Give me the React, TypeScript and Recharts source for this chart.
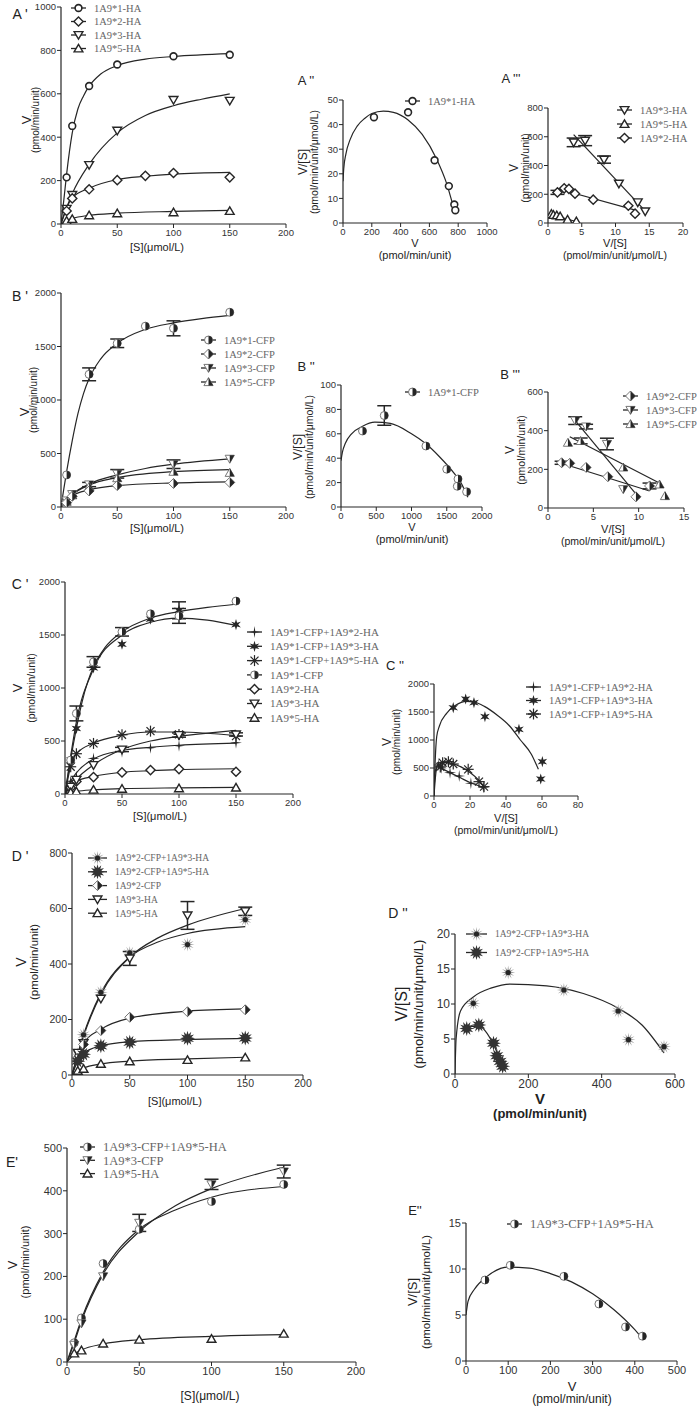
import React from 'react'
import { ComposedChart, Scatter, Line, XAxis, YAxis, ErrorBar } from 'recharts'

// ---- A' : Michaelis-Menten, HA constructs ----
const S_A = [5, 10, 25, 50, 100, 150]
const S_A2 = [5, 10, 25, 50, 75, 100, 150]
const A_HA1 = [215, 452, 636, 735, 773, 780]
const A_HA3 = [70, 134, 272, 430, 572, 568]
const A_HA2 = [60, 118, 160, 202, 222, 235, 215]
const A_HA5 = [15, 23, 40, 49, 54, 60]
const FIT_HA1_X = [0, 2.5, 5, 10, 15, 20, 25, 35, 50, 75, 100, 150]
const FIT_HA1_Y = [0, 110, 230, 420, 530, 590, 635, 690, 730, 760, 772, 785]
const FIT_HA3_X = [0, 5, 10, 25, 50, 75, 100, 125, 150]
const FIT_HA3_Y = [0, 75, 140, 275, 420, 500, 545, 575, 600]
const FIT_HA2_X = [0, 5, 10, 25, 50, 75, 100, 150]
const FIT_HA2_Y = [0, 75, 120, 165, 205, 220, 230, 238]
const FIT_HA5_X = [0, 5, 10, 25, 50, 100, 150]
const FIT_HA5_Y = [0, 15, 25, 40, 50, 58, 63]

// ---- A'' : Eadie-Hofstee 1A9*1-HA ----
const A2_V = [215, 452, 636, 735, 773, 780]
const A2_VS = [43, 45, 25.5, 15, 7.5, 5.2]
const A2_FIT_X = [0, 5, 20, 50, 100, 150, 200, 280, 350, 450, 550, 650, 720, 760, 780]
const A2_FIT_Y = [17, 22, 28, 34, 39.5, 42.5, 44.5, 45.5, 45, 42, 36, 26, 16, 8, 4]

// ---- A''' ----
const A3_HA3_X = [3.8, 5.5, 8.3, 10.5, 13.3, 14.4]
const A3_HA3_Y = [561, 573, 441, 274, 144, 81]
const A3_HA3_E = [30, 35, 25, 0, 0, 0]
const A3_HA2_X = [1.4, 2.4, 3.1, 4.0, 6.7, 11.9, 12.9]
const A3_HA2_Y = [213, 241, 237, 204, 162, 120, 65]
const A3_HA2_E = [14, 0, 0, 0, 0, 0, 0]
const A3_HA5_X = [0.5, 0.8, 1.3, 1.8, 2.9, 4.2]
const A3_HA5_Y = [63, 56, 53, 46, 23, 12]
const A3_L3 = { x: [3.8, 14.6], y: [615, 74] }
const A3_L2 = { x: [1.3, 13.2], y: [240, 86] }
const A3_L5 = { x: [0.1, 4.4], y: [63, 7] }

// ---- B' : CFP constructs ----
const S_B1 = [5, 25, 50, 75, 100, 150]
const B_CFP1 = [300, 1240, 1530, 1690, 1670, 1820]
const B_CFP1_E = [0, 60, 40, 0, 70, 0]
const S_B = [5, 10, 25, 50, 100, 150]
const B_CFP3 = [60, 120, 210, 310, 400, 450]
const B_CFP3_E = [0, 0, 20, 40, 40, 0]
const B_CFP5 = [50, 110, 190, 270, 330, 320]
const B_CFP2 = [40, 100, 150, 200, 220, 230]
const FIT_CFP1_X = [0, 2.5, 5, 10, 15, 20, 25, 35, 50, 75, 100, 125, 150]
const FIT_CFP1_Y = [0, 170, 330, 620, 870, 1060, 1200, 1380, 1530, 1660, 1720, 1760, 1790]
const FIT_CFP3_X = [0, 10, 25, 50, 75, 100, 150]
const FIT_CFP3_Y = [0, 120, 215, 300, 360, 400, 450]
const FIT_CFP5_X = [0, 10, 25, 50, 100, 150]
const FIT_CFP5_Y = [0, 115, 205, 275, 330, 350]
const FIT_CFP2_X = [0, 10, 25, 50, 100, 150]
const FIT_CFP2_Y = [0, 105, 160, 200, 225, 235]

// ---- B'' ----
const B2_V = [305, 614, 1205, 1500, 1660, 1650, 1782]
const B2_VS = [62.3, 75, 50, 31, 23, 17, 12.5]
const B2_E = [0, 8, 0, 0, 0, 0, 0]
const B2_FIT_X = [0, 20, 60, 150, 300, 480, 700, 1000, 1200, 1400, 1600, 1700, 1800]
const B2_FIT_Y = [38, 45, 52, 60, 66, 69.5, 68.5, 60, 52, 41, 28, 20, 8]

// ---- B''' ----
const B3_C2_X = [1.5, 2.4, 4.2, 6.6, 11.2, 9.7]
const B3_C2_Y = [234, 231, 210, 162, 114, 58]
const B3_C2_E = [8, 0, 0, 0, 15, 0]
const B3_C3_X = [3.0, 4.2, 6.5, 8.3]
const B3_C3_Y = [452, 421, 331, 97]
const B3_C3_E = [20, 12, 30, 0]
const B3_C5_X = [2.2, 3.6, 8.3, 12.3, 12.9]
const B3_C5_Y = [338, 347, 210, 122, 62]
const B3_C5_E = [0, 15, 0, 0, 0]
const B3_L3 = { x: [2.8, 10.1], y: [464, 50] }
const B3_L5 = { x: [2.4, 12.5], y: [369, 124] }
const B3_L2 = { x: [1.3, 11.2], y: [234, 88] }

// ---- C' : co-expression with 1A9*1-CFP ----
const S_C = [5, 10, 25, 50, 75, 100, 150]
const C_MIX2 = [120, 163, 336, 399, 436, 455, 483]
const C_MIX3 = [320, 618, 1190, 1413, 1650, 1733, 1598]
const C_MIX3_E = [0, 0, 0, 0, 0, 80, 0]
const C_MIX5 = [257, 380, 477, 559, 593, 562, 546]
const C_CFP1 = [320, 760, 1246, 1530, 1700, 1680, 1820]
const C_CFP1_E = [0, 70, 50, 40, 0, 70, 0]
const C_HA2 = [60, 118, 160, 204, 226, 235, 210]
const C_HA3 = [70, 134, 273, 420, 556, 562]
const C_HA3_E = [0, 0, 0, 20, 20, 15]
const C_HA5 = [15, 23, 40, 49, 54, 60]
const FIT_MIX2_X = [0, 5, 10, 25, 50, 75, 100, 150]
const FIT_MIX2_Y = [0, 120, 200, 330, 410, 440, 460, 480]
const FIT_MIX3_X = [0, 5, 10, 25, 50, 75, 100, 125, 150]
const FIT_MIX3_Y = [0, 360, 680, 1180, 1500, 1620, 1660, 1640, 1590]
const FIT_MIX5_X = [0, 5, 10, 25, 50, 75, 100, 150]
const FIT_MIX5_Y = [0, 260, 380, 480, 555, 585, 585, 550]

// ---- C'' ----
const C2_MIX2_X = [2.4, 4, 8.9, 14, 20.5, 27.4]
const C2_MIX2_Y = [553, 500, 417, 357, 226, 155]
const C2_MIX3_X = [10.7, 17.6, 22.2, 28.3, 47.2, 60.2, 59.3]
const C2_MIX3_Y = [1577, 1732, 1667, 1417, 1190, 613, 304]
const C2_MIX5_X = [3.5, 4.8, 8, 10.7, 19, 25, 27.8]
const C2_MIX5_Y = [520, 595, 613, 571, 476, 256, 167]
const C2_FIT3_X = [0, 0.5, 1.5, 3, 7, 12, 18, 22, 28, 35, 42, 48, 54, 58]
const C2_FIT3_Y = [0, 500, 1060, 1250, 1476, 1620, 1690, 1680, 1600, 1446, 1250, 1000, 750, 476]
const C2_FIT5_X = [0, 0.5, 2, 6, 10, 15, 20, 25, 28]
const C2_FIT5_Y = [0, 400, 550, 600, 580, 520, 420, 280, 160]
const C2_FIT2_X = [0, 1, 2, 5, 10, 15, 20, 27]
const C2_FIT2_Y = [0, 400, 540, 480, 400, 320, 240, 160]

// ---- D' : co-expression with 1A9*2-CFP ----
const S_D = [5, 10, 25, 50, 100, 150]
const D_MIX3 = [75, 145, 298, 440, 470, 560]
const D_HA3 = [80, 115, 275, 420, 575, 590]
const D_HA3_E = [0, 0, 0, 25, 50, 15]
const D_CFP2 = [60, 110, 160, 208, 228, 235]
const D_MIX5 = [50, 75, 105, 118, 132, 133]
const D_HA5 = [15, 22, 40, 49, 54, 63]
const FIT_DMIX3_X = [0, 10, 25, 50, 75, 100, 150]
const FIT_DMIX3_Y = [0, 145, 295, 425, 480, 510, 535]
const FIT_DHA3_X = [0, 10, 25, 50, 75, 100, 150]
const FIT_DHA3_Y = [0, 140, 290, 425, 495, 540, 600]
const FIT_DCFP2_X = [0, 10, 25, 50, 100, 150]
const FIT_DCFP2_Y = [0, 115, 165, 205, 230, 238]
const FIT_DMIX5_X = [0, 5, 10, 25, 50, 100, 150]
const FIT_DMIX5_Y = [0, 50, 78, 105, 120, 128, 132]
const FIT_DHA5_X = [0, 10, 25, 50, 100, 150]
const FIT_DHA5_Y = [0, 25, 40, 50, 58, 64]

// ---- D'' ----
const D2_MIX3_X = [50, 145, 297, 445, 473, 570]
const D2_MIX3_Y = [10.1, 14.5, 12, 9, 4.9, 3.9]
const D2_MIX5_X = [32, 65, 105, 114, 123, 130]
const D2_MIX5_Y = [6.5, 7, 4.4, 2.6, 1.8, 1.1]
const D2_FIT3_X = [0, 3, 15, 50, 100, 150, 250, 350, 445, 510, 570]
const D2_FIT3_Y = [0, 5, 9, 11, 12.3, 12.85, 12.6, 11.5, 9.4, 7, 3]
const D2_FIT5_X = [32, 65, 105, 123, 132]
const D2_FIT5_Y = [6.8, 6.8, 4.2, 2, 0.8]

// ---- E' : co-expression with 1A9*3-CFP ----
const S_E = [5, 10, 25, 50, 100, 150]
const E_MIX5 = [45, 103, 230, 310, 375, 415]
const E_CFP3 = [40, 90, 200, 325, 415, 445]
const E_CFP3_E = [0, 0, 0, 20, 12, 15]
const E_HA5 = [20, 27, 43, 52, 54, 66]
const FIT_EMIX5_X = [0, 5, 10, 25, 50, 75, 100, 150]
const FIT_EMIX5_Y = [0, 50, 100, 210, 310, 355, 385, 410]
const FIT_ECFP3_X = [0, 5, 10, 25, 50, 75, 100, 150]
const FIT_ECFP3_Y = [0, 45, 95, 205, 305, 365, 405, 455]
const FIT_EHA5_X = [0, 5, 10, 25, 50, 100, 150]
const FIT_EHA5_Y = [0, 18, 28, 42, 52, 60, 64]

// ---- E'' ----
const E2_V = [45, 105, 232, 315, 378, 418]
const E2_VS = [8.8, 10.4, 9.2, 6.2, 3.7, 2.7]
const E2_FIT_X = [0, 5, 20, 50, 100, 150, 200, 250, 300, 350, 400, 415]
const E2_FIT_Y = [5, 6.5, 7.8, 9.2, 10.2, 10.1, 9.5, 8.6, 7.3, 5.6, 3.4, 2.6]

const K = '#262626'
const SANS = '"Liberation Sans", Arial, sans-serif'
const SERIF = '"Liberation Serif", "Times New Roman", serif'

type Pt = { x: number; y: number; e?: number }
const P = (xs: number[], ys: number[], es?: number[]): Pt[] =>
  xs.map((x, i) => ({ x, y: ys[i], e: es ? es[i] : 0 }))

const starPath = (cx: number, cy: number, n: number, ro: number, ri: number) => {
  let d = ''
  for (let i = 0; i < n * 2; i++) {
    const r = i % 2 === 0 ? ro : ri
    const a = (Math.PI * i) / n - Math.PI / 2
    d += (i === 0 ? 'M' : 'L') + (cx + r * Math.cos(a)).toFixed(2) + ',' + (cy + r * Math.sin(a)).toFixed(2)
  }
  return d + 'Z'
}

const Mark = ({ k, cx, cy }: { k: string; cx: number; cy: number }) => {
  const sw = 1.4
  switch (k) {
    case 'circle':
      return <circle cx={cx} cy={cy} r={3.4} fill="#fff" stroke={K} strokeWidth={1.6} />
    case 'diamond':
      return <path d={`M${cx},${cy - 4.6}L${cx + 4.6},${cy}L${cx},${cy + 4.6}L${cx - 4.6},${cy}Z`} fill="#fff" stroke={K} strokeWidth={sw} />
    case 'triDown':
      return <path d={`M${cx - 4.4},${cy - 3.4}L${cx + 4.4},${cy - 3.4}L${cx},${cy + 4.2}Z`} fill="#fff" stroke={K} strokeWidth={sw} />
    case 'triUp':
      return <path d={`M${cx - 4.4},${cy + 3.4}L${cx + 4.4},${cy + 3.4}L${cx},${cy - 4.2}Z`} fill="#fff" stroke={K} strokeWidth={sw} />
    case 'halfCircle':
      return (
        <g>
          <circle cx={cx} cy={cy} r={4} fill="#fff" stroke="#777" strokeWidth={1} />
          <path d={`M${cx},${cy - 4}A4,4 0 0 1 ${cx},${cy + 4}Z`} fill={K} />
        </g>
      )
    case 'halfDiamond':
      return (
        <g>
          <path d={`M${cx},${cy - 5}L${cx + 5},${cy}L${cx},${cy + 5}L${cx - 5},${cy}Z`} fill="#fff" stroke="#777" strokeWidth={1} />
          <path d={`M${cx},${cy - 5}L${cx + 5},${cy}L${cx},${cy + 5}Z`} fill={K} />
        </g>
      )
    case 'halfTriDown':
      return (
        <g>
          <path d={`M${cx - 4.6},${cy - 3.6}L${cx + 4.6},${cy - 3.6}L${cx},${cy + 4.4}Z`} fill="#fff" stroke="#777" strokeWidth={1} />
          <path d={`M${cx},${cy - 3.6}L${cx + 4.6},${cy - 3.6}L${cx},${cy + 4.4}Z`} fill={K} />
        </g>
      )
    case 'halfTriUp':
      return (
        <g>
          <path d={`M${cx - 4.6},${cy + 3.6}L${cx + 4.6},${cy + 3.6}L${cx},${cy - 4.4}Z`} fill="#fff" stroke="#777" strokeWidth={1} />
          <path d={`M${cx},${cy + 3.6}L${cx + 4.6},${cy + 3.6}L${cx},${cy - 4.4}Z`} fill={K} />
        </g>
      )
    case 'plus4':
      return <path d={starPath(cx, cy, 4, 6, 1.1)} fill={K} />
    case 'star6':
      return <path d={starPath(cx, cy, 6, 5.6, 2.2)} fill={K} />
    case 'asterisk':
      return (
        <g stroke={K} strokeWidth={1.2}>
          <line x1={cx - 5.5} y1={cy} x2={cx + 5.5} y2={cy} />
          <line x1={cx} y1={cy - 5.5} x2={cx} y2={cy + 5.5} />
          <line x1={cx - 4} y1={cy - 4} x2={cx + 4} y2={cy + 4} />
          <line x1={cx - 4} y1={cy + 4} x2={cx + 4} y2={cy - 4} />
        </g>
      )
    case 'burstLight':
      return (
        <g>
          <path d={starPath(cx, cy, 12, 7, 2.6)} fill="#9a9a9a" />
          <circle cx={cx} cy={cy} r={2.6} fill={K} />
        </g>
      )
    case 'burstDark':
      return <path d={starPath(cx, cy, 12, 7.5, 4)} fill="#333" />
    default:
      return <circle cx={cx} cy={cy} r={3} fill={K} />
  }
}

type Ser = { pts?: Pt[]; fit?: Pt[]; k: string; lin?: boolean }

const Panel = ({ box, xd, yd, xt, yt, ser, fs = 9.5 }: {
  box: number[]; xd: number[]; yd: number[]; xt: number[]; yt: number[]; ser: Ser[]; fs?: number
}) => {
  const [x0, y0, x1, y1] = box
  const YW = 40, MT = 10, MR = 16, XH = 24
  const tick = { fontSize: fs, fill: '#333', fontFamily: SANS }
  return (
    <div style={{ position: 'absolute', left: x0 - YW, top: y0 - MT }}>
      <ComposedChart width={YW + x1 - x0 + MR} height={MT + y1 - y0 + XH} margin={{ top: MT, right: MR, bottom: 0, left: 0 }}>
        <XAxis type="number" dataKey="x" domain={xd} ticks={xt} interval={0} height={XH} tickSize={4} tickMargin={1}
          tick={tick} tickLine={{ stroke: K }} axisLine={{ stroke: K, strokeWidth: 1.2 }} allowDataOverflow />
        <YAxis type="number" dataKey="y" domain={yd} ticks={yt} interval={0} width={YW} tickSize={4} tickMargin={1}
          tick={tick} tickLine={{ stroke: K }} axisLine={{ stroke: K, strokeWidth: 1.2 }} allowDataOverflow />
        {ser.map((s, i) => s.fit ? (
          <Line key={'l' + i} data={s.fit} dataKey="y" type={s.lin ? 'linear' : 'monotone'} stroke={K}
            strokeWidth={1.2} dot={false} activeDot={false} isAnimationActive={false} />
        ) : null)}
        {ser.map((s, i) => s.pts ? (
          <Scatter key={'s' + i} data={s.pts} dataKey="y" isAnimationActive={false}
            shape={(p: any) => <Mark k={s.k} cx={p.cx} cy={p.cy} />}>
            {s.pts.some((q) => (q.e || 0) > 0) ? (
              <ErrorBar dataKey="e" direction="y" width={7} stroke={K} strokeWidth={1.5} />
            ) : null}
          </Scatter>
        ) : null)}
      </ComposedChart>
    </div>
  )
}

const T = ({ x, y, t, s = 11, r = false, c = '#222', f = SANS, b = false }: {
  x: number; y: number; t: string; s?: number; r?: boolean; c?: string; f?: string; b?: boolean
}) => (
  <div style={{
    position: 'absolute', left: x, top: y, transform: `translate(-50%,-50%)${r ? ' rotate(-90deg)' : ''}`,
    fontSize: s, color: c, fontFamily: f, whiteSpace: 'nowrap', fontWeight: b ? 700 : 400, lineHeight: 1,
  }}>{t}</div>
)

const Leg = ({ x, y, rows, gap = 13.5, s = 10.5, w = 16 }: {
  x: number; y: number; rows: [string, string][]; gap?: number; s?: number; w?: number
}) => (
  <svg style={{ position: 'absolute', left: x, top: y - 8 }} width={220} height={rows.length * gap + 10}>
    {rows.map(([k, label], i) => {
      const cy = 8 + i * gap
      return (
        <g key={i}>
          <line x1={1} y1={cy} x2={w} y2={cy} stroke={K} strokeWidth={1.3} />
          <Mark k={k} cx={w / 2 + 0.5} cy={cy} />
          <text x={w + 8} y={cy + s * 0.35} fontSize={s} fill="#666" fontFamily={SERIF}>{label}</text>
        </g>
      )
    })}
  </svg>
)

const XS = [0, 50, 100, 150, 200]

export default function App() {
  return (
    <div style={{ position: 'absolute', left: 0, top: 0, width: 697, height: 1411, background: '#fff', overflow: 'hidden' }}>
      {/* Row A */}
      <T x={20} y={14} t="A '" s={14} />
      <Panel box={[61, 7, 286, 224]} xd={[0, 200]} yd={[0, 1000]} xt={XS} yt={[0, 200, 400, 600, 800, 1000]} ser={[
        { k: 'circle', pts: P(S_A, A_HA1), fit: P(FIT_HA1_X, FIT_HA1_Y) },
        { k: 'triDown', pts: P(S_A, A_HA3), fit: P(FIT_HA3_X, FIT_HA3_Y) },
        { k: 'diamond', pts: P(S_A2, A_HA2), fit: P(FIT_HA2_X, FIT_HA2_Y) },
        { k: 'triUp', pts: P(S_A, A_HA5), fit: P(FIT_HA5_X, FIT_HA5_Y) },
      ]} />
      <Leg x={70} y={8} rows={[['circle', '1A9*1-HA'], ['diamond', '1A9*2-HA'], ['triDown', '1A9*3-HA'], ['triUp', '1A9*5-HA']]} />
      <T x={26} y={120} t="V" s={13} r />
      <T x={36} y={120} t="(pmol/min/unit)" s={10} r />
      <T x={157} y={247} t="[S](μmol/L)" s={11} />

      <T x={306} y={80} t="A ''" s={13} />
      <Panel box={[343, 100, 487, 223]} xd={[0, 1000]} yd={[0, 50]} xt={[0, 200, 400, 600, 800, 1000]} yt={[0, 10, 20, 30, 40, 50]} ser={[
        { k: 'circle', pts: P(A2_V, A2_VS), fit: P(A2_FIT_X, A2_FIT_Y) },
      ]} />
      <Leg x={404} y={101} rows={[['circle', '1A9*1-HA']]} />
      <T x={303} y={162} t="V/[S]" s={12} r />
      <T x={314} y={162} t="(pmol/min/unit/μmol/L)" s={10.5} r />
      <T x={415} y={243} t="V" s={11} />
      <T x={415} y={255} t="(pmol/min/unit)" s={11} />

      <T x={511} y={78} t="A '''" s={13} />
      <Panel box={[548, 108, 683, 223]} xd={[0, 20]} yd={[0, 800]} xt={[0, 5, 10, 15, 20]} yt={[0, 200, 400, 600, 800]} ser={[
        { k: 'triDown', pts: P(A3_HA3_X, A3_HA3_Y, A3_HA3_E), fit: P(A3_L3.x, A3_L3.y), lin: true },
        { k: 'diamond', pts: P(A3_HA2_X, A3_HA2_Y, A3_HA2_E), fit: P(A3_L2.x, A3_L2.y), lin: true },
        { k: 'triUp', pts: P(A3_HA5_X, A3_HA5_Y), fit: P(A3_L5.x, A3_L5.y), lin: true },
      ]} />
      <Leg x={616} y={110} gap={14} rows={[['triDown', '1A9*3-HA'], ['triUp', '1A9*5-HA'], ['diamond', '1A9*2-HA']]} />
      <T x={514} y={168} t="V" s={12} r />
      <T x={525} y={168} t="(pmol/min/unit)" s={10.5} r />
      <T x={615} y={243} t="V/[S]" s={11} />
      <T x={615} y={255} t="(pmol/min/unit/μmol/L)" s={10.5} />

      {/* Row B */}
      <T x={20} y={296} t="B '" s={14} />
      <Panel box={[61, 293, 286, 507]} xd={[0, 200]} yd={[0, 2000]} xt={XS} yt={[0, 500, 1000, 1500, 2000]} ser={[
        { k: 'halfCircle', pts: P(S_B1, B_CFP1, B_CFP1_E), fit: P(FIT_CFP1_X, FIT_CFP1_Y) },
        { k: 'halfTriDown', pts: P(S_B, B_CFP3, B_CFP3_E), fit: P(FIT_CFP3_X, FIT_CFP3_Y) },
        { k: 'halfTriUp', pts: P(S_B, B_CFP5), fit: P(FIT_CFP5_X, FIT_CFP5_Y) },
        { k: 'halfDiamond', pts: P(S_B, B_CFP2), fit: P(FIT_CFP2_X, FIT_CFP2_Y) },
      ]} />
      <Leg x={200} y={340} gap={14} rows={[['halfCircle', '1A9*1-CFP'], ['halfDiamond', '1A9*2-CFP'], ['halfTriDown', '1A9*3-CFP'], ['halfTriUp', '1A9*5-CFP']]} />
      <T x={24} y={412} t="V" s={13} r />
      <T x={34} y={400} t="(pmol/min/unit)" s={10} r />
      <T x={157} y={528} t="[S](μmol/L)" s={11} />

      <T x={306} y={366} t="B ''" s={13} />
      <Panel box={[341, 385, 482, 507]} xd={[0, 2000]} yd={[0, 100]} xt={[0, 500, 1000, 1500, 2000]} yt={[0, 20, 40, 60, 80, 100]} ser={[
        { k: 'halfCircle', pts: P(B2_V, B2_VS, B2_E), fit: P(B2_FIT_X, B2_FIT_Y) },
      ]} />
      <Leg x={404} y={392} rows={[['halfCircle', '1A9*1-CFP']]} />
      <T x={298} y={447} t="V/[S]" s={12} r />
      <T x={309} y={447} t="(pmol/min/unit/μmol/L)" s={10.5} r />
      <T x={412} y={527} t="V" s={11} />
      <T x={412} y={539} t="(pmol/min/unit)" s={11} />

      <T x={510} y={374} t="B '''" s={13} />
      <Panel box={[548, 392, 684, 508]} xd={[0, 15]} yd={[0, 600]} xt={[0, 5, 10, 15]} yt={[0, 200, 400, 600]} ser={[
        { k: 'halfDiamond', pts: P(B3_C2_X, B3_C2_Y, B3_C2_E), fit: P(B3_L2.x, B3_L2.y), lin: true },
        { k: 'halfTriDown', pts: P(B3_C3_X, B3_C3_Y, B3_C3_E), fit: P(B3_L3.x, B3_L3.y), lin: true },
        { k: 'halfTriUp', pts: P(B3_C5_X, B3_C5_Y, B3_C5_E), fit: P(B3_L5.x, B3_L5.y), lin: true },
      ]} />
      <Leg x={622} y={396} gap={14} rows={[['halfDiamond', '1A9*2-CFP'], ['halfTriDown', '1A9*3-CFP'], ['halfTriUp', '1A9*5-CFP']]} />
      <T x={510} y={450} t="V" s={12} r />
      <T x={521} y={450} t="(pmol/min/unit)" s={10.5} r />
      <T x={613} y={529} t="V/[S]" s={11} />
      <T x={613} y={541} t="(pmol/min/unit/μmol/L)" s={10.5} />

      {/* Row C */}
      <T x={20} y={584} t="C '" s={14} />
      <Panel box={[65, 582, 293, 794]} xd={[0, 200]} yd={[0, 2000]} xt={XS} yt={[0, 500, 1000, 1500, 2000]} ser={[
        { k: 'plus4', pts: P(S_C, C_MIX2), fit: P(FIT_MIX2_X, FIT_MIX2_Y) },
        { k: 'star6', pts: P(S_C, C_MIX3, C_MIX3_E), fit: P(FIT_MIX3_X, FIT_MIX3_Y) },
        { k: 'asterisk', pts: P(S_C, C_MIX5), fit: P(FIT_MIX5_X, FIT_MIX5_Y) },
        { k: 'halfCircle', pts: P(S_C, C_CFP1, C_CFP1_E), fit: P(FIT_CFP1_X, FIT_CFP1_Y) },
        { k: 'diamond', pts: P(S_C, C_HA2), fit: P(FIT_HA2_X, FIT_HA2_Y) },
        { k: 'triDown', pts: P(S_A, C_HA3, C_HA3_E), fit: P(FIT_HA3_X, FIT_HA3_Y) },
        { k: 'triUp', pts: P(S_A, C_HA5), fit: P(FIT_HA5_X, FIT_HA5_Y) },
      ]} />
      <Leg x={246} y={632} gap={14.3} s={11} rows={[
        ['plus4', '1A9*1-CFP+1A9*2-HA'], ['star6', '1A9*1-CFP+1A9*3-HA'], ['asterisk', '1A9*1-CFP+1A9*5-HA'],
        ['halfCircle', '1A9*1-CFP'], ['diamond', '1A9*2-HA'], ['triDown', '1A9*3-HA'], ['triUp', '1A9*5-HA']]} />
      <T x={17} y={688} t="V" s={13} r />
      <T x={31} y={688} t="(pmol/min/unit)" s={10.5} r />
      <T x={160} y={816} t="[S](μmol/L)" s={11} />

      <T x={395} y={665} t="C ''" s={13} />
      <Panel box={[434, 684, 578, 796]} xd={[0, 80]} yd={[0, 2000]} xt={[0, 20, 40, 60, 80]} yt={[0, 500, 1000, 1500, 2000]} ser={[
        { k: 'plus4', pts: P(C2_MIX2_X, C2_MIX2_Y), fit: P(C2_FIT2_X, C2_FIT2_Y) },
        { k: 'star6', pts: P(C2_MIX3_X, C2_MIX3_Y), fit: P(C2_FIT3_X, C2_FIT3_Y) },
        { k: 'asterisk', pts: P(C2_MIX5_X, C2_MIX5_Y), fit: P(C2_FIT5_X, C2_FIT5_Y) },
      ]} />
      <Leg x={525} y={687} gap={13.5} rows={[['plus4', '1A9*1-CFP+1A9*2-HA'], ['star6', '1A9*1-CFP+1A9*3-HA'], ['asterisk', '1A9*1-CFP+1A9*5-HA']]} />
      <T x={387} y={742} t="V" s={12} r />
      <T x={397} y={742} t="(pmol/min/unit)" s={10} r />
      <T x={506} y={818} t="V/[S]" s={11} />
      <T x={506} y={830} t="(pmol/min/unit/μmol/L)" s={10.5} />

      {/* Row D */}
      <T x={20} y={856} t="D '" s={14} />
      <Panel box={[72, 853, 303, 1075]} fs={10.5} xd={[0, 200]} yd={[0, 800]} xt={XS} yt={[0, 200, 400, 600, 800]} ser={[
        { k: 'burstLight', pts: P(S_D, D_MIX3), fit: P(FIT_DMIX3_X, FIT_DMIX3_Y) },
        { k: 'triDown', pts: P(S_D, D_HA3, D_HA3_E), fit: P(FIT_DHA3_X, FIT_DHA3_Y) },
        { k: 'halfDiamond', pts: P(S_D, D_CFP2), fit: P(FIT_DCFP2_X, FIT_DCFP2_Y) },
        { k: 'burstDark', pts: P(S_D, D_MIX5), fit: P(FIT_DMIX5_X, FIT_DMIX5_Y) },
        { k: 'triUp', pts: P(S_D, D_HA5), fit: P(FIT_DHA5_X, FIT_DHA5_Y) },
      ]} />
      <Leg x={87} y={858} gap={13.8} s={9.5} w={20} rows={[
        ['burstLight', '1A9*2-CFP+1A9*3-HA'], ['burstDark', '1A9*2-CFP+1A9*5-HA'], ['halfDiamond', '1A9*2-CFP'],
        ['triDown', '1A9*3-HA'], ['triUp', '1A9*5-HA']]} />
      <T x={21} y={962} t="V" s={14} r />
      <T x={35} y={962} t="(pmol/min/unit)" s={11.5} r />
      <T x={175} y={1101} t="[S](μmol/L)" s={11} />

      <T x={398} y={913} t="D ''" s={14} />
      <Panel box={[455, 934, 675, 1074]} fs={12} xd={[0, 600]} yd={[0, 20]} xt={[0, 200, 400, 600]} yt={[0, 5, 10, 15, 20]} ser={[
        { k: 'burstLight', pts: P(D2_MIX3_X, D2_MIX3_Y), fit: P(D2_FIT3_X, D2_FIT3_Y) },
        { k: 'burstDark', pts: P(D2_MIX5_X, D2_MIX5_Y), fit: P(D2_FIT5_X, D2_FIT5_Y) },
      ]} />
      <Leg x={465} y={934} gap={18.5} s={9.5} w={22} rows={[['burstLight', '1A9*2-CFP+1A9*3-HA'], ['burstDark', '1A9*2-CFP+1A9*5-HA']]} />
      <T x={402} y={1004} t="V/[S]" s={16} r />
      <T x={418} y={1004} t="(pmol/min/unit/μmol/L)" s={13} r />
      <T x={540} y={1098} t="V" s={15} b />
      <T x={540} y={1113} t="(pmol/min/unit)" s={13} b />

      {/* Row E */}
      <T x={12} y={1162} t="E'" s={14} />
      <Panel box={[67, 1148, 356, 1362]} fs={11} xd={[0, 200]} yd={[0, 500]} xt={XS} yt={[0, 100, 200, 300, 400, 500]} ser={[
        { k: 'halfCircle', pts: P(S_E, E_MIX5), fit: P(FIT_EMIX5_X, FIT_EMIX5_Y) },
        { k: 'halfTriDown', pts: P(S_E, E_CFP3, E_CFP3_E), fit: P(FIT_ECFP3_X, FIT_ECFP3_Y) },
        { k: 'triUp', pts: P(S_E, E_HA5), fit: P(FIT_EHA5_X, FIT_EHA5_Y) },
      ]} />
      <Leg x={79} y={1147} gap={13.3} s={12.5} rows={[['halfCircle', '1A9*3-CFP+1A9*5-HA'], ['halfTriDown', '1A9*3-CFP'], ['triUp', '1A9*5-HA']]} />
      <T x={12} y={1265} t="V" s={13} r />
      <T x={25} y={1262} t="(pmol/min/unit)" s={11} r />
      <T x={210} y={1396} t="[S](μmol/L)" s={12} />

      <T x={415} y={1210} t="E''" s={13} />
      <Panel box={[466, 1223, 677, 1361]} fs={11} xd={[0, 500]} yd={[0, 15]} xt={[0, 100, 200, 300, 400, 500]} yt={[0, 5, 10, 15]} ser={[
        { k: 'halfCircle', pts: P(E2_V, E2_VS), fit: P(E2_FIT_X, E2_FIT_Y) },
      ]} />
      <Leg x={506} y={1224} s={12.5} rows={[['halfCircle', '1A9*3-CFP+1A9*5-HA']]} />
      <T x={412} y={1292} t="V/[S]" s={13} r />
      <T x={427} y={1292} t="(pmol/min/unit/μmol/L)" s={11.5} r />
      <T x={572} y={1386} t="V" s={13} />
      <T x={572} y={1399} t="(pmol/min/unit)" s={12} />
    </div>
  )
}
